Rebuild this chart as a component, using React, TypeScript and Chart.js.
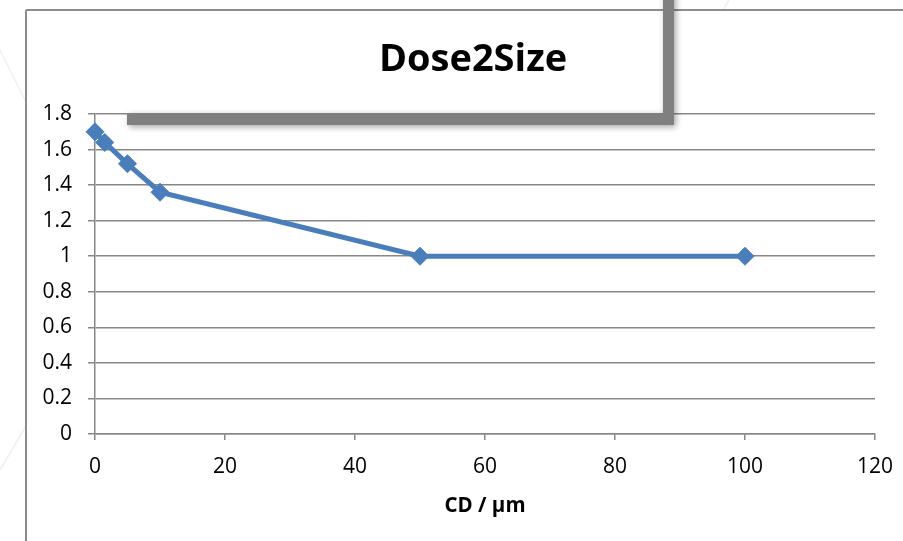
import React, { useEffect, useRef } from "react";
import { Chart, registerables } from "chart.js";

Chart.register(...registerables);

// ---- data ----
const xValues = [0, 1.5, 5, 10, 50, 100];
const yValues = [1.7, 1.64, 1.52, 1.36, 1.0, 1.0];
const xTickValues = [0, 20, 40, 60, 80, 100, 120];
const yTickValues = [0, 0.2, 0.4, 0.6, 0.8, 1, 1.2, 1.4, 1.6, 1.8];
const chartTitle = "Dose2Size";
const xAxisTitle = "CD / µm";

const W = 903;
const H = 541;
const GRID = "#878787";
const LINE = "#4a7ebb";
const FONT = "'Open Sans', 'DejaVu Sans', sans-serif";

const decor = {
  id: "decor",
  beforeDraw(chart: any) {
    const ctx = chart.ctx as CanvasRenderingContext2D;
    ctx.save();
    ctx.fillStyle = "#ffffff";
    ctx.fillRect(0, 0, W, H);
    // faint background lines
    ctx.strokeStyle = "#f0f0f0";
    ctx.lineWidth = 1.5;
    ctx.beginPath();
    ctx.moveTo(0, 50);
    ctx.lineTo(26, 102);
    ctx.moveTo(0, 470);
    ctx.lineTo(26, 426);
    ctx.moveTo(722, 12);
    ctx.lineTo(729, 0);
    ctx.stroke();
    ctx.fillStyle = "#ffffff";
    ctx.fillRect(26, 10, W, H);
    // frame
    ctx.strokeStyle = "#8c8c8c";
    ctx.lineWidth = 2;
    ctx.beginPath();
    ctx.moveTo(26, 10);
    ctx.lineTo(W, 10);
    ctx.moveTo(26, 10);
    ctx.lineTo(26, H);
    ctx.stroke();
    ctx.restore();
  },
  beforeDatasetsDraw(chart: any) {
    const ctx = chart.ctx as CanvasRenderingContext2D;
    ctx.save();
    ctx.fillStyle = "#808080";
    ctx.shadowColor = "rgba(0,0,0,0.35)";
    ctx.shadowBlur = 6;
    ctx.shadowOffsetX = 2;
    ctx.shadowOffsetY = 2;
    ctx.beginPath();
    ctx.moveTo(127, 113);
    ctx.lineTo(663, 113);
    ctx.lineTo(663, -10);
    ctx.lineTo(674, -10);
    ctx.lineTo(674, 125);
    ctx.lineTo(127, 125);
    ctx.closePath();
    ctx.fill();
    ctx.restore();

    ctx.save();
    ctx.fillStyle = "#000000";
    ctx.font = `bold 38px ${FONT}`;
    ctx.textAlign = "center";
    ctx.textBaseline = "alphabetic";
    ctx.fillText(chartTitle, 473, 71);
    ctx.font = `bold 20.5px ${FONT}`;
    ctx.fillText(xAxisTitle, 485, 512);
    ctx.restore();
  },
};

export default function App() {
  const ref = useRef<HTMLCanvasElement | null>(null);

  useEffect(() => {
    if (!ref.current) return;
    const chart = new Chart(ref.current, {
      type: "scatter",
      data: {
        datasets: [
          {
            data: xValues.map((x, i) => ({ x, y: yValues[i] })),
            showLine: true,
            borderColor: LINE,
            backgroundColor: LINE,
            borderWidth: 5,
            pointStyle: "rectRot",
            pointRadius: 9,
            pointBorderWidth: 1,
            pointBorderColor: LINE,
            pointBackgroundColor: LINE,
            clip: false as any,
          },
        ],
      },
      options: {
        responsive: false,
        animation: false,
        events: [],
        layout: { padding: { left: 0, top: 114, right: 28, bottom: 0 } },
        plugins: {
          legend: { display: false },
          tooltip: { enabled: false },
          title: { display: false },
        },
        scales: {
          x: {
            type: "linear",
            min: 0,
            max: 120,
            afterBuildTicks: (s: any) => {
              s.ticks = xTickValues.map((v) => ({ value: v }));
            },
            afterFit: (s: any) => {
              s.height = H - 434;
              s.paddingLeft = 0;
              s.paddingRight = 0;
            },
            grid: {
              drawOnChartArea: false,
              drawTicks: true,
              tickLength: 6,
              color: GRID,
              lineWidth: 1.5,
            },
            border: { color: GRID, width: 1.5 },
            ticks: {
              padding: 14,
              color: "#000",
              font: { family: FONT, size: 21 },
              maxRotation: 0,
            },
          },
          y: {
            type: "linear",
            min: 0,
            max: 1.8,
            afterBuildTicks: (s: any) => {
              s.ticks = yTickValues.map((v) => ({ value: v }));
            },
            afterFit: (s: any) => {
              s.width = 95;
              s.paddingTop = 0;
              s.paddingBottom = 0;
            },
            grid: {
              drawTicks: true,
              tickLength: 7,
              color: GRID,
              lineWidth: 1.5,
            },
            border: { color: GRID, width: 1.5 },
            ticks: {
              padding: 16,
              color: "#000",
              font: { family: FONT, size: 21 },
              callback: (v: any) => String(parseFloat(Number(v).toFixed(1))),
            },
          },
        },
      },
      plugins: [decor],
    });
    return () => chart.destroy();
  }, []);

  return (
    <div style={{ position: "fixed", left: 0, top: 0, width: W, height: H, background: "#fff" }}>
      <canvas ref={ref} width={W} height={H} style={{ display: "block", width: W, height: H }} />
    </div>
  );
}
